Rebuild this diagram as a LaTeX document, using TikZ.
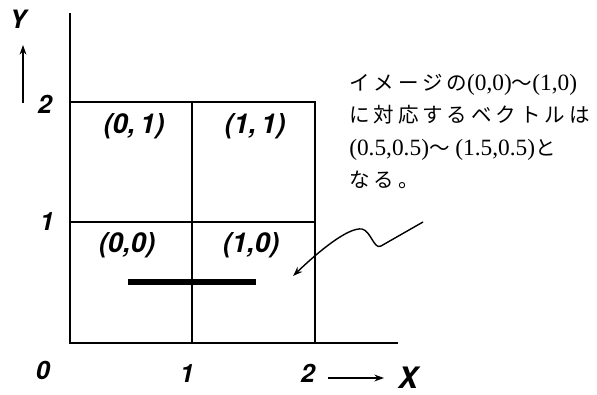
\documentclass[tikz,border=0pt]{standalone}
\usepackage{fontspec}
\setmainfont{Liberation Serif}
\newfontfamily\lblfont{TeX Gyre Heros}
\newfontfamily\jfont[LetterSpace=19]{Noto Sans CJK JP}
\newcommand{\jp}[1]{{\jfont\fontsize{14.6}{23}\selectfont #1}}
\usetikzlibrary{arrows.meta,positioning}

\begin{document}
\begin{tikzpicture}[x=0.025cm,y=-0.025cm,>={Stealth[length=2.4mm,width=1.7mm]},
  ax/.style={line width=1.8pt},
  bar/.style={line width=4.3pt},
  lbl/.style={font=\lblfont\bfseries\itshape\fontsize{19.5}{22}\selectfont,inner sep=0pt},
  tick/.style={font=\lblfont\bfseries\itshape\fontsize{18}{20}\selectfont,inner sep=0pt},
  note/.style={align=left,anchor=north west,inner sep=0pt,
    font=\fontsize{16.6}{23}\selectfont},
  a/.style={->,line width=1pt}]
\useasboundingbox (0,0) rectangle (597,394);
% axes and grid
\draw[ax] (70,13) -- (70,343) -- (398,343);
\draw[ax] (70,102) -- (315,102) -- (315,343);
\draw[ax] (192,102) -- (192,343);
\draw[ax] (70,222) -- (315,222);
\draw[bar] (128,282) -- (256,282);
% cell labels
\node[lbl] (c01) at (134,126) {(0,\,1)};
\node[lbl] (c11) at (255,126) {(1,\,1)};
\node[lbl] (c00) at (127,245) {(0,0)};
\node[lbl] (c10) at (251,245) {(1,0)};
% axis labels
\node[tick] (ylab) at (18,19) {Y};
\node[tick] (y2) at (45,104) {2};
\node[tick] (y1) at (47,222) {1};
\node[tick] (o) at (43,370) {0};
\node[tick] (x1) at (187,374) {1};
\node[tick] (x2) at (308,373) {2};
\node[lbl,font=\lblfont\bfseries\itshape\fontsize{21}{24}\selectfont] (xlab) at (408,378) {X};
\coordinate (ya) at (23,103);
\coordinate (yb) at (23,45);
\coordinate (xa) at (328,378);
\coordinate (xb) at (384,378);
\draw[a] (ya) -- (yb);
\draw[a] (xa) -- (xb);
% note
\node[note] (txt) at (349,74)
  {\jp{イメージの}(0,0)\jp{～}(1,0)\\
   \jp{に対応するベクトルは}\\
   (0.5,0.5)\jp{～} (1.5,0.5)\jp{と}\\
   \jp{なる。}};
\coordinate (ws) at (423,222);
\coordinate (wt) at (293,276);
\draw[a] (ws) -- (381,246) .. controls (374,250) and (371,231) .. (362,229)
  .. controls (348,227) and (318,252) .. (wt);
\end{tikzpicture}
\end{document}
